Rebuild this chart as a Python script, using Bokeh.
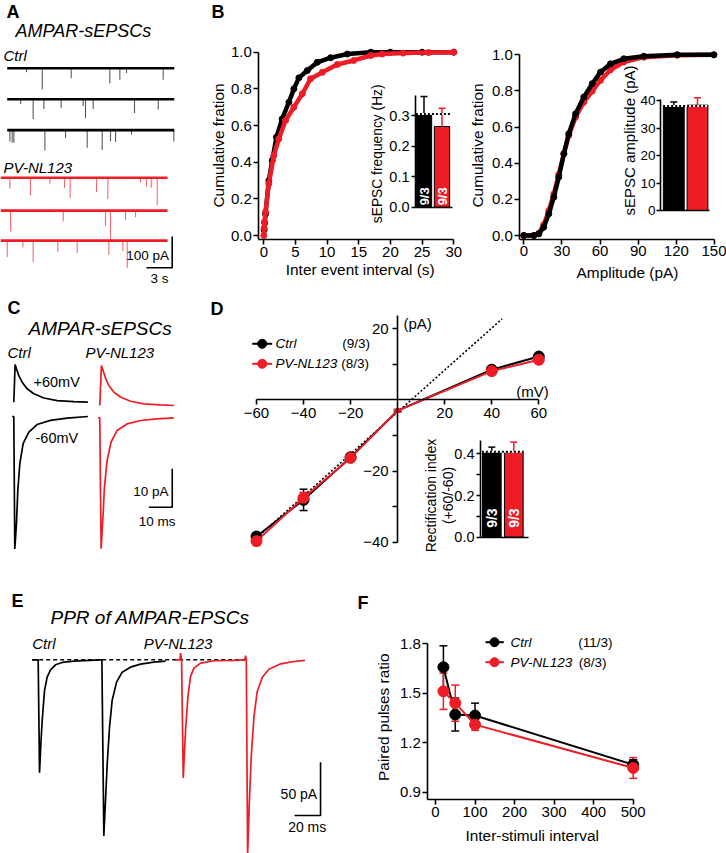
from math import pi
from bokeh.plotting import figure
from bokeh.models import (Range1d, LinearAxis, FixedTicker, Label, Whisker,
                          ColumnDataSource, TeeHead, PrintfTickFormatter, BasicTickFormatter)
from bokeh.embed import file_html
from bokeh.resources import INLINE

# ---------------------------------------------------------------- page geometry
W, H = 726, 853
FONT = "Liberation Sans"
RED = "#ee1c25"


def fs(v):
    return f"{v:.1f}px"

# ================================================================ DATA
# A: spontaneous events of 3 sweeps per group: time (s), amplitude (pA)
a_ctrl1_t = [2.26, 4.09, 7.47, 11.98, 13.15, 13.93, 18.21]
a_ctrl1_amp = [13, 68, 32, 48, 37, 15, 37]
a_ctrl2_t = [1.56, 3.03, 4.28, 6.30, 8.87, 9.14, 10.04, 14.86, 17.63]
a_ctrl2_amp = [15, 63, 31, 27, 22, 61, 31, 44, 33]
a_ctrl3_t = [0.31, 0.58, 0.78, 4.40, 6.81, 9.34, 11.09, 12.06, 12.65, 14.51, 19.45]
a_ctrl3_amp = [36, 40, 40, 65, 26, 56, 63, 36, 38, 15, 36]
a_pv1_t = [1.09, 3.50, 5.76, 7.47, 8.13, 11.21, 12.53, 16.34, 17.04, 17.59, 18.29]
a_pv1_amp = [35, 56, 19, 33, 64, 46, 69, 17, 28, 32, 88]
a_pv2_t = [1.17, 7.32, 12.26, 12.84, 14.59, 15.76]
a_pv2_amp = [67, 35, 48, 93, 30, 21]
a_pv3_t = [0.78, 2.61, 3.81, 6.69, 8.95, 12.65, 14.28, 14.79]
a_pv3_amp = [52, 22, 68, 36, 39, 45, 33, 87]
a_sweep_s = 19.5

# B: cumulative distributions
b_iei_ctrl_s = [0.05, 0.15, 0.27, 0.79, 1.33, 2.0, 2.9, 3.96, 4.75, 5.54, 6.87, 8.45, 10.55, 13.2, 16.9, 20, 25, 30]
b_iei_ctrl_cum = [0.03, 0.07, 0.118, 0.30, 0.409, 0.536, 0.636, 0.727, 0.80, 0.86, 0.90, 0.945, 0.97, 0.99, 1.0, 1.0, 1.0, 1.0]
b_iei_pv_s = [0.0, 0.05, 0.1, 0.27, 0.79, 1.58, 2.37, 3.43, 4.75, 6.08, 7.39, 9.24, 11.6, 14.2, 16.9, 18.7, 22, 26, 30]
b_iei_pv_cum = [0.0, 0.04, 0.073, 0.127, 0.282, 0.436, 0.527, 0.627, 0.70, 0.773, 0.855, 0.89, 0.933, 0.955, 0.982, 0.99, 0.995, 0.998, 1.0]
b_amp_ctrl_pa = [0, 7.9, 11.8, 15.7, 19.7, 23.6, 27.5, 31.5, 35.4, 40.7, 47.2, 53.8, 60.3, 68.2, 78.7, 94.4, 120.7, 149.5]
b_amp_ctrl_cum = [0, 0, 0.009, 0.046, 0.12, 0.212, 0.323, 0.452, 0.563, 0.673, 0.766, 0.84, 0.904, 0.95, 0.978, 0.992, 1.0, 1.0]
b_amp_pv_pa = [0, 7.9, 11.8, 15.7, 19.7, 23.6, 27.5, 31.5, 35.4, 40.7, 47.2, 53.8, 60.3, 68.2, 78.7, 94.4, 120.7, 149.5]
b_amp_pv_cum = [0, 0, 0.012, 0.06, 0.138, 0.23, 0.338, 0.452, 0.554, 0.655, 0.738, 0.799, 0.858, 0.917, 0.96, 0.987, 0.998, 1.0]
b_groups_n = ["9/3", "9/3"]
b_freq_mean = [0.305, 0.264]
b_freq_sem = [0.057, 0.060]
b_sampl_mean = [38.0, 38.3]
b_sampl_sem = [1.5, 2.7]

# C: averaged sEPSCs at +60 / -60 mV (time ms, current pA)
c_ctrl_pos_t = [0, 0.57, 1.14, 2.15, 3.6, 5.7, 8.6, 12.9, 18.6, 25.8, 31.8]
c_ctrl_pos_i = [0, 9.8, 8.7, 6.9, 5.2, 3.5, 2.2, 1.1, 0.43, 0.17, 0]
c_ctrl_neg_t = [-0.7, 0, 0.43, 1.14, 1.72, 2.58, 4.0, 6.44, 10.0, 15.7, 22.9, 31.8]
c_ctrl_neg_i = [0, 0, -34.5, -27.9, -19.3, -12.3, -7.1, -4.1, -2.1, -1.0, -0.43, 0]
c_pv_pos_t = [0, 0.72, 1.43, 2.43, 3.86, 6.0, 8.87, 13.2, 18.9, 26.0, 31.8]
c_pv_pos_i = [0, 10.4, 9.1, 7.2, 5.2, 3.5, 2.2, 1.1, 0.43, 0.17, 0]
c_pv_neg_t = [-0.72, 0, 0.57, 1.29, 2.0, 3.15, 4.86, 7.44, 11.7, 17.5, 24.6, 31.8]
c_pv_neg_i = [0, 0, -34.1, -26.7, -18.1, -11.1, -6.3, -3.3, -1.6, -0.7, -0.26, 0]

# D: I-V relation
d_mv = [-60, -40, -20, 0, 40, 60]
d_ctrl_pa = [-38.4, -28.1, -16.1, -3.0, 8.5, 12.2]
d_ctrl_sem = [1.0, 3.0, 0.8, 0.3, 1.0, 0.8]
d_pv_pa = [-39.7, -27.5, -16.3, -3.0, 8.1, 11.3]
d_pv_sem = [1.2, 1.5, 1.0, 0.3, 1.0, 1.0]
d_fit_mv = [-60, 44.4]
d_fit_pa = [-38.8, 22.8]
d_ri_mean = [0.41, 0.41]
d_ri_sem = [0.022, 0.046]
d_groups_n = ["9/3", "9/3"]

# E: paired-pulse EPSCs (time ms, current pA)
e_ctrl_t = [0, 3.85, 4.6, 5.64, 6.67, 7.69, 9.49, 11.5, 14.1, 17.9, 23.1, 32.1, 52.6, 53.6, 55.1, 56.4, 57.7, 59.5, 61.5, 64.9, 69.2, 75.6, 83.3, 93.6, 102.6]
e_ctrl_i = [0, 0, 0, -105.9, -78.7, -56.9, -28.7, -16.2, -9.4, -4.7, -2.5, -1.2, 0, 0, -165.3, -131.8, -97.5, -63.1, -38.1, -20.9, -11.6, -6.9, -4.1, -2.2, -1.2]
e_pv_t = [0, 3.33, 3.85, 4.6, 5.9, 6.67, 7.69, 9.49, 11.5, 14.1, 19.2, 29.5, 44.9, 53.3, 53.8, 54.4, 55.4, 56.7, 58.2, 60.3, 62.8, 66.7, 71.8, 80.8, 91.0, 99.5]
e_pv_i = [0, 0, 6.3, 0, -110.9, -90.6, -65.6, -34.4, -15.6, -7.8, -3.1, -0.9, -0.6, 0, 3.8, 0, -182.8, -134.4, -90.6, -53.1, -29.7, -16.3, -8.8, -3.8, -1.6, -0.6]

# F: paired-pulse ratio
f_isi = [20, 50, 100, 500]
f_ctrl = [1.658, 1.371, 1.365, 1.067]
f_ctrl_sem = [0.13, 0.10, 0.075, 0.03]
f_pv = [1.512, 1.44, 1.31, 1.047]
f_pv_sem = [0.11, 0.11, 0.035, 0.063]

# ================================================================ FIGURE
p = figure(width=W, height=H, x_range=Range1d(0, W), y_range=Range1d(H, 0),
           x_axis_type=None, y_axis_type=None, toolbar_location=None,
           output_backend="svg", min_border=0, outline_line_color=None, title=None)
p.background_fill_color = "white"
p.border_fill_color = "white"


def xr(v1, p1, v2, p2):
    k = (p2 - p1) / (v2 - v1)
    return Range1d(start=v1 - p1 / k, end=v1 + (W - p1) / k)


def yr(v1, p1, v2, p2):
    k = (p1 - p2) / (v2 - v1)
    return Range1d(start=v1 - (H - p1) / k, end=v1 + p1 / k)


p.extra_x_ranges = {
    "A": xr(0, 6.7, 3, 32.4), "C": xr(0, 13.3, 10, 36.6), "E": xr(0, 31.7, 20, 57.7),
    "BL": xr(0, 263.3, 30, 453.3), "BLI": xr(1, 423.5, 2, 441.5),
    "BR": xr(0, 523.3, 150, 714.0), "BRI": xr(1, 673.3, 2, 697.0),
    "D": xr(-60, 256.0, 60, 538.3), "DI": xr(1, 491.3, 2, 513.3),
    "F": xr(0, 435.0, 500, 632.7),
}
p.extra_y_ranges = {
    "A": yr(0, 67.7, -100, 99.0), "C": yr(0, 401.7, -10, 440.1), "E": yr(0, 659.3, -50, 712.6),
    "BL": yr(0, 235.0, 1, 51.7), "BLI": yr(0, 206.7, 0.3, 115.0),
    "BR": yr(0, 235.0, 1, 54.3), "BRI": yr(0, 210.0, 40, 100.0),
    "D": yr(20, 328.3, -40, 541.7), "DI": yr(0, 536.7, 0.4, 453.3),
    "F": yr(1.8, 643.3, 0.9, 791.7),
}


def R(name):
    return dict(x_range_name=name, y_range_name=name)


def label(x, y, text, size, style="normal", align="left", baseline="middle",
          color="black", angle=0.0, rn="default"):
    p.add_layout(Label(x=x, y=y, text=text, text_font=FONT, text_font_size=fs(size),
                       text_font_style=style, text_align=align, text_baseline=baseline,
                       text_color=color, angle=angle, x_range_name=rn, y_range_name=rn))


def axis(side, rn, loc, bounds, ticks, minor=(), fmt=None, tsize=15, tick_out=5, std=2):
    ax = LinearAxis(x_range_name=rn, y_range_name=rn, fixed_location=loc, bounds=bounds,
                    ticker=FixedTicker(ticks=list(ticks), minor_ticks=list(minor)),
                    formatter=PrintfTickFormatter(format=fmt) if fmt else BasicTickFormatter())
    ax.axis_line_width = 1.6
    ax.axis_line_color = "black"
    ax.major_tick_line_width = 1.6
    ax.major_tick_out = tick_out
    ax.major_tick_in = 0
    if minor:
        ax.minor_tick_line_width = 1.6
        ax.minor_tick_out = tick_out
        ax.minor_tick_in = 0
    else:
        ax.minor_tick_line_color = None
    ax.major_label_text_font = FONT
    ax.major_label_text_font_size = fs(tsize)
    ax.major_label_text_color = "black"
    ax.major_label_standoff = std
    p.add_layout(ax, side)


def errbars(xs, lo, hi, color, rn, width=1.5, head=7, lower_head=True):
    src = ColumnDataSource(dict(x=list(xs), lo=list(lo), hi=list(hi)))
    w = Whisker(source=src, base="x", lower="lo", upper="hi", dimension="height",
                line_color=color, line_width=width,
                upper_head=TeeHead(size=head, line_color=color, line_width=width),
                lower_head=TeeHead(size=head, line_color=color, line_width=width) if lower_head else None,
                **R(rn))
    p.add_layout(w)


# ---------------------------------------------------------------- panel letters & titles
for txt, x, y in [("A", 6, 11), ("B", 211, 11), ("C", 7, 307.5), ("D", 210, 308),
                  ("E", 11, 600), ("F", 357, 602)]:
    label(x, y, txt, 18, style="bold")
label(15, 30.8, "AMPAR-sEPSCs", 18, style="italic")
label(3, 55, "Ctrl", 15, style="italic")
label(3, 166.7, "PV-NL123", 15, style="italic")
label(28, 328.3, "AMPAR-sEPSCs", 19, style="italic")
label(7, 352, "Ctrl", 15, style="italic")
label(85, 352, "PV-NL123", 15, style="italic")
label(50, 616.7, "PPR of AMPAR-EPSCs", 19, style="italic")
label(31.7, 643.3, "Ctrl", 15, style="italic")
label(143.3, 643.3, "PV-NL123", 15, style="italic")

# ---------------------------------------------------------------- panel A
a_sweeps = [(a_ctrl1_t, a_ctrl1_amp, 0, 0.0, "black"), (a_ctrl2_t, a_ctrl2_amp, -99, 0.0, "black"),
            (a_ctrl3_t, a_ctrl3_amp, -198, 0.0, "black"), (a_pv1_t, a_pv1_amp, -350, -0.78, RED),
            (a_pv2_t, a_pv2_amp, -455, -0.78, RED), (a_pv3_t, a_pv3_amp, -551, -0.78, RED)]
for ts, amps, off, toff, col in a_sweeps:
    xs = [t + toff for t in ts]
    p.segment(x0=xs, y0=[off] * len(xs), x1=xs, y1=[off - a for a in amps],
              line_color=col, line_width=1.1, line_alpha=0.65, **R("A"))
    p.line([toff, toff + a_sweep_s], [off, off], line_color=col, line_width=2.6, **R("A"))
a_sb_t, a_sb_i = 19.26, -637.7
p.line([a_sb_t - 3, a_sb_t, a_sb_t], [a_sb_i, a_sb_i, a_sb_i + 100], line_color="black",
       line_width=1.6, **R("A"))
label(168.5, 254.5, "100 pA", 13.5, align="right")
label(159, 277.5, "3 s", 13.5, align="center")

# ---------------------------------------------------------------- panel B (left)
p.line(b_iei_ctrl_s, b_iei_ctrl_cum, line_color="black", line_width=4.5, **R("BL"))
p.scatter(b_iei_ctrl_s, b_iei_ctrl_cum, size=6, color="black", **R("BL"))
p.line(b_iei_pv_s, b_iei_pv_cum, line_color=RED, line_width=4.5, **R("BL"))
p.scatter(b_iei_pv_s, b_iei_pv_cum, size=6, color=RED, **R("BL"))
axis("left", "BL", -0.79, (-0.0235, 1.0), [0, 0.2, 0.4, 0.6, 0.8, 1.0], fmt="%.1f")
axis("below", "BL", -0.0235, (-0.79, 30), [0, 5, 10, 15, 20, 25, 30])
label(217.5, 145, "Cumulative fration", 15.4, align="center", angle=pi / 2)
label(359.7, 269, "Inter event interval (s)", 15.4, align="center")

# inset: frequency
p.vbar(x=[1, 2], top=b_freq_mean, width=0.85, fill_color=["black", RED], line_color="black",
       line_width=1, **R("BLI"))
errbars([1], b_freq_mean[:1], [b_freq_mean[0] + b_freq_sem[0]], "black", "BLI", lower_head=False)
errbars([2], b_freq_mean[1:], [b_freq_mean[1] + b_freq_sem[1]], RED, "BLI", lower_head=False)
p.line([0.55, 2.45], [b_freq_mean[0]] * 2, line_color="white", line_width=2, **R("BLI"))
p.line([0.55, 2.45], [b_freq_mean[0]] * 2, line_color="black", line_width=2, line_dash="2 2", **R("BLI"))
for i, n in enumerate(b_groups_n):
    label(i + 1, 0.006, n, 13, style="bold", color="white", angle=pi / 2, rn="BLI")
axis("left", "BLI", 0.528, (0, 0.365), [0, 0.1, 0.2, 0.3], fmt="%.1f", tsize=14.5, tick_out=4)
axis("below", "BLI", 0, (0.528, 2.57), [])
label(376.7, 153.3, "sEPSC frequency (Hz)", 13.8, align="center", angle=pi / 2)

# ---------------------------------------------------------------- panel B (right)
p.line(b_amp_pv_pa, b_amp_pv_cum, line_color=RED, line_width=4.5, **R("BR"))
p.scatter(b_amp_pv_pa, b_amp_pv_cum, size=6, color=RED, **R("BR"))
p.line(b_amp_ctrl_pa, b_amp_ctrl_cum, line_color="black", line_width=4.5, **R("BR"))
p.scatter(b_amp_ctrl_pa, b_amp_ctrl_cum, size=6, color="black", **R("BR"))
axis("left", "BR", -3.15, (-0.022, 1.0), [0, 0.2, 0.4, 0.6, 0.8, 1.0], fmt="%.1f")
axis("below", "BR", -0.022, (-3.15, 150), [0, 30, 60, 90, 120, 150])
label(476.7, 145, "Cumulative fration", 15.4, align="center", angle=pi / 2)
label(627, 271.7, "Amplitude (pA)", 15.4, align="center")

p.vbar(x=[1, 2], top=b_sampl_mean, width=0.88, fill_color=["black", RED], line_color="black",
       line_width=1, **R("BRI"))
errbars([1], b_sampl_mean[:1], [b_sampl_mean[0] + b_sampl_sem[0]], "black", "BRI", lower_head=False)
errbars([2], b_sampl_mean[1:], [b_sampl_mean[1] + b_sampl_sem[1]], RED, "BRI", lower_head=False)
p.line([0.55, 2.45], [b_sampl_mean[0]] * 2, line_color="white", line_width=2, **R("BRI"))
p.line([0.55, 2.45], [b_sampl_mean[0]] * 2, line_color="black", line_width=2, line_dash="2 2", **R("BRI"))
axis("left", "BRI", 0.439, (0, 40.4), [0, 10, 20, 30, 40], tsize=13.5, tick_out=4, std=1)
axis("below", "BRI", 0, (0.439, 2.5), [])
label(629, 140, "sEPSC amplitude (pA)", 15, align="center", angle=pi / 2)

# ---------------------------------------------------------------- panel C
c_offsets = {"ctrl_pos": 0.0, "ctrl_neg": -3.72, "pv_pos": -0.86, "pv_neg": -4.06}
c_pv_dt = 36.9
p.line(c_ctrl_pos_t, [v + c_offsets["ctrl_pos"] for v in c_ctrl_pos_i], line_color="black", line_width=1.7, **R("C"))
p.line(c_ctrl_neg_t, [v + c_offsets["ctrl_neg"] for v in c_ctrl_neg_i], line_color="black", line_width=1.7, **R("C"))
p.line([t + c_pv_dt for t in c_pv_pos_t], [v + c_offsets["pv_pos"] for v in c_pv_pos_i], line_color=RED, line_width=1.7, **R("C"))
p.line([t + c_pv_dt for t in c_pv_neg_t], [v + c_offsets["pv_neg"] for v in c_pv_neg_i], line_color=RED, line_width=1.7, **R("C"))
c_sb_t, c_sb_i = 68.0, -27.34
p.line([c_sb_t - 10, c_sb_t, c_sb_t], [c_sb_i, c_sb_i, c_sb_i + 10], line_color="black", line_width=1.6, **R("C"))
label(33, 381.7, "+60mV", 14.5)
label(35, 437.3, "-60mV", 14.5)
label(168, 490.7, "10 pA", 13.5, align="right")
label(156.7, 520.7, "10 ms", 13.5, align="center")

# ---------------------------------------------------------------- panel D
p.line(d_fit_mv, d_fit_pa, line_color="black", line_width=1.6, line_dash="2 2", **R("D"))
errbars(d_mv, [m - s for m, s in zip(d_ctrl_pa, d_ctrl_sem)], [m + s for m, s in zip(d_ctrl_pa, d_ctrl_sem)], "black", "D", head=8)
p.line(d_mv, d_ctrl_pa, line_color="black", line_width=2, **R("D"))
p.scatter(d_mv, d_ctrl_pa, size=[4 if v == 0 else 11 for v in d_mv], color="black", **R("D"))
errbars(d_mv, [m - s for m, s in zip(d_pv_pa, d_pv_sem)], [m + s for m, s in zip(d_pv_pa, d_pv_sem)], RED, "D", head=8)
p.line(d_mv, d_pv_pa, line_color=RED, line_width=2, **R("D"))
p.scatter(d_mv, d_pv_pa, size=[4 if v == 0 else 11 for v in d_mv], color=RED, **R("D"))
axis("left", "D", 0, (-40, 23.7), [20, -20, -40], minor=[10, -10, -30], std=4)
axis("below", "D", 0, (-60, 60), [-60, -40, -20, 20, 40, 60], std=3)
label(403, 323.3, "(pA)", 15)
label(548.3, 390.7, "(mV)", 15, align="right")
# legend
p.line([251.7, 271.7], [343.3, 343.3], line_color="black", line_width=2)
p.scatter([261.7], [343.3], size=9, color="black")
p.line([251.7, 271.7], [363.3, 363.3], line_color=RED, line_width=2)
p.scatter([261.7], [363.3], size=9, color=RED)
label(275, 343.3, "Ctrl", 13.5, style="italic")
label(341.7, 343.3, "(9/3)", 13.5)
label(275, 363.3, "PV-NL123", 13.5, style="italic")
label(340.7, 363.3, "(8/3)", 13.5)

# inset: rectification index
p.vbar(x=[1, 2], top=d_ri_mean, width=0.85, fill_color=["black", RED], line_color="black",
       line_width=1, **R("DI"))
errbars([1], d_ri_mean[:1], [d_ri_mean[0] + d_ri_sem[0]], "black", "DI", lower_head=False)
errbars([2], d_ri_mean[1:], [d_ri_mean[1] + d_ri_sem[1]], RED, "DI", lower_head=False)
p.line([0.55, 2.45], [d_ri_mean[0]] * 2, line_color="white", line_width=2, **R("DI"))
p.line([0.55, 2.45], [d_ri_mean[0]] * 2, line_color="black", line_width=2, line_dash="2 2", **R("DI"))
for i, n in enumerate(d_groups_n):
    label(i + 1, 0.045, n, 14, style="bold", color="white", angle=pi / 2, rn="DI")
axis("left", "DI", 0.486, (0, 0.464), [0, 0.2, 0.4], minor=[0.1, 0.3], fmt="%.1f", tsize=14.5, tick_out=4)
axis("below", "DI", 0, (0.486, 2.68), [])
label(430, 495, "Rectification index", 14, align="center", angle=pi / 2)
label(447, 495, "(+60/-60)", 14, align="center", angle=pi / 2)

# ---------------------------------------------------------------- panel E
e_pv_dt = 110.3
p.line([0, 164], [0, 0], line_color="black", line_width=1.6, line_dash="4 3", **R("E"))
p.line(e_ctrl_t, e_ctrl_i, line_color="black", line_width=1.7, **R("E"))
p.line([t + e_pv_dt for t in e_pv_t], e_pv_i, line_color=RED, line_width=1.7, **R("E"))
e_sb_t, e_sb_i = 221.8, -146.1
p.line([e_sb_t - 20, e_sb_t, e_sb_t], [e_sb_i, e_sb_i, e_sb_i + 50], line_color="black", line_width=1.6, **R("E"))
label(316.7, 793.3, "50 pA", 14, align="right")
label(306.7, 826.7, "20 ms", 14, align="center")

# ---------------------------------------------------------------- panel F
errbars(f_isi, [m - s for m, s in zip(f_ctrl, f_ctrl_sem)], [m + s for m, s in zip(f_ctrl, f_ctrl_sem)], "black", "F", head=8)
p.line(f_isi, f_ctrl, line_color="black", line_width=2, **R("F"))
p.scatter(f_isi, f_ctrl, size=11, color="black", **R("F"))
errbars(f_isi, [m - s for m, s in zip(f_pv, f_pv_sem)], [m + s for m, s in zip(f_pv, f_pv_sem)], RED, "F", head=8)
p.line(f_isi, f_pv, line_color=RED, line_width=2, **R("F"))
p.scatter(f_isi, f_pv, size=11, color=RED, **R("F"))
axis("left", "F", -19.5, (0.8534, 1.8), [0.9, 1.2, 1.5, 1.8], fmt="%.1f")
axis("below", "F", 0.8534, (-19.5, 500), [0, 100, 200, 300, 400, 500])
label(382.5, 716.7, "Paired pulses ratio", 15.4, align="center", angle=pi / 2)
label(531.7, 835, "Inter-stimuli interval", 15.4, align="center")
p.line([485, 503.3], [641.7, 641.7], line_color="black", line_width=2)
p.scatter([494], [641.7], size=9, color="black")
p.line([485, 503.3], [661.7, 661.7], line_color=RED, line_width=2)
p.scatter([494], [661.7], size=9, color=RED)
label(510, 641.7, "Ctrl", 13.5, style="italic")
label(577.7, 641.7, "(11/3)", 13.5)
label(510, 661.7, "PV-NL123", 13.5, style="italic")
label(578.3, 661.7, "(8/3)", 13.5)

open("out.html", "w").write(file_html(p, INLINE))
